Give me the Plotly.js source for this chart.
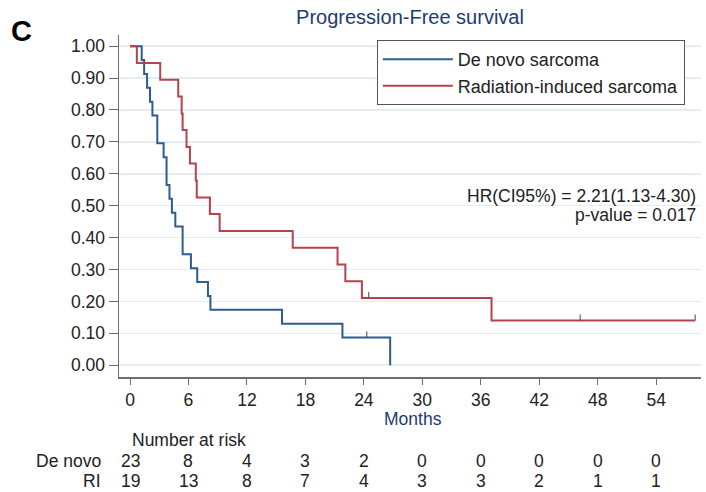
<!DOCTYPE html>
<html>
<head>
<meta charset="utf-8">
<script src="https://cdn.plot.ly/plotly-3.0.1.min.js"></script>
<style>
  html, body { margin: 0; padding: 0; background: #fff; }
  #chart { width: 706px; height: 492px; }
</style>
</head>
<body>
<div id="chart"></div>
<script>
// ---- Data ----
var seriesNames = ["De novo sarcoma", "Radiation-induced sarcoma"];

// De novo sarcoma: Kaplan-Meier step points (months, survival)
var deNovoTime = [0, 1.2, 1.45, 1.75, 2.05, 2.3, 2.8, 3.45, 3.75, 4.05, 4.3, 4.65, 5.4, 6.25, 6.9, 8.0, 8.25, 15.6, 21.8, 26.7];
var deNovoSurv = [1, 0.957, 0.913, 0.870, 0.826, 0.783, 0.696, 0.652, 0.565, 0.522, 0.478, 0.435, 0.348, 0.304, 0.261, 0.217, 0.174, 0.130, 0.087, 0];
var deNovoCensorTime = [24.3];
var deNovoCensorSurv = [0.087];

// Radiation-induced sarcoma
var riTime = [0, 0.7, 3.1, 4.95, 5.3, 5.4, 5.8, 6.15, 6.75, 6.85, 8.2, 9.2, 16.7, 21.3, 22.1, 23.8, 37.1, 58.0];
var riSurv = [1, 0.947, 0.895, 0.842, 0.789, 0.737, 0.684, 0.632, 0.579, 0.526, 0.474, 0.421, 0.368, 0.316, 0.263, 0.211, 0.140, 0.140];
var riCensorTime = [24.5, 46.2, 58.0];
var riCensorSurv = [0.211, 0.140, 0.140];

// Number at risk table
var riskTimes = [0, 6, 12, 18, 24, 30, 36, 42, 48, 54];
var riskDeNovo = [23, 8, 4, 3, 2, 0, 0, 0, 0, 0];
var riskRI = [19, 13, 8, 7, 4, 3, 3, 2, 1, 1];
var riskRowLabels = ["De novo", "RI"];

var yTicks = [0, 0.1, 0.2, 0.3, 0.4, 0.5, 0.6, 0.7, 0.8, 0.9, 1.0];
var xTicks = [0, 6, 12, 18, 24, 30, 36, 42, 48, 54];

var hrLines = ["HR(CI95%) = 2.21(1.13-4.30)", "p-value = 0.017"];

// ---- Styles ----
var blue = "#2c5d92";
var red = "#b5424d";
var navy = "#1f3b72";
var FONT = "Liberation Sans, Arial, Helvetica, sans-serif";

var traces = [
  {
    x: deNovoTime, y: deNovoSurv, name: seriesNames[0],
    type: "scatter", mode: "lines", line: {shape: "hv", color: blue, width: 2}
  },
  {
    x: riTime, y: riSurv, name: seriesNames[1],
    type: "scatter", mode: "lines", line: {shape: "hv", color: red, width: 2}
  }
];

// censor tick marks (small vertical ticks above the curve)
var shapes = [];
function addCensors(times, survs) {
  for (var i = 0; i < times.length; i++) {
    shapes.push({
      type: "line", xref: "x", yref: "y",
      x0: times[i], x1: times[i],
      ysizemode: "pixel", yanchor: survs[i], y0: 0, y1: 6,
      line: {color: "#444", width: 1}
    });
  }
}
addCensors(deNovoCensorTime, deNovoCensorSurv);
addCensors(riCensorTime, riCensorSurv);

var annotations = [];
// panel letter
annotations.push({
  text: "<b>C</b>", xref: "paper", yref: "paper", x: -0.168, y: 1.013,
  xanchor: "center", yanchor: "middle", showarrow: false,
  font: {family: FONT, size: 29, color: "#000"}
});
// x-axis title placed just under the tick labels
annotations.push({
  text: "Months", xref: "paper", yref: "paper", x: 0.505, y: -0.1215,
  xanchor: "center", yanchor: "middle", showarrow: false,
  font: {family: FONT, size: 17.5, color: navy}
});
// HR annotation (two lines, right aligned)
var hrY = [0.529, 0.474];
for (var h = 0; h < hrLines.length; h++) {
  annotations.push({
    text: hrLines[h], xref: "paper", yref: "paper", x: 0.995, y: hrY[h],
    xanchor: "right", yanchor: "middle", align: "right", showarrow: false,
    font: {family: FONT, size: 17.5, color: "#222"}
  });
}
// Number at risk header
annotations.push({
  text: "Number at risk", xref: "x", yref: "paper", x: riskTimes[0], y: -0.1842,
  xanchor: "left", yanchor: "middle", showarrow: false,
  font: {family: FONT, size: 17.5, color: "#222"}
});
// row labels
var rowY = [-0.2442, -0.3041];
for (var r = 0; r < riskRowLabels.length; r++) {
  annotations.push({
    text: riskRowLabels[r], xref: "paper", yref: "paper", x: -0.027, y: rowY[r],
    xanchor: "right", yanchor: "middle", showarrow: false,
    font: {family: FONT, size: 17.5, color: "#222"}
  });
}
var rows = [riskDeNovo, riskRI];
for (var r2 = 0; r2 < rows.length; r2++) {
  for (var k = 0; k < riskTimes.length; k++) {
    annotations.push({
      text: String(rows[r2][k]), xref: "x", yref: "paper", x: riskTimes[k], y: rowY[r2],
      xanchor: "center", yanchor: "middle", showarrow: false,
      font: {family: FONT, size: 17.5, color: "#222"}
    });
  }
}

var layout = {
  width: 706, height: 492,
  margin: {l: 119, r: 5, t: 35, b: 115, pad: 0},
  paper_bgcolor: "#fff", plot_bgcolor: "#fff",
  font: {family: FONT, size: 17.5, color: "#222"},
  title: {
    text: "Progression-Free survival",
    x: 0.5, xref: "paper", xanchor: "center",
    y: 1 - 17 / 492, yref: "container", yanchor: "middle",
    font: {family: FONT, size: 20, color: navy}
  },
  xaxis: {
    range: [-1.13, 58.6], tickvals: xTicks, ticktext: xTicks.map(String),
    showgrid: false, zeroline: false,
    showline: true, linecolor: "#6e6e6e", linewidth: 1.5,
    ticks: "outside", ticklen: 6, tickwidth: 1, tickcolor: "#6e6e6e",
    tickfont: {family: FONT, size: 17.5, color: "#222"},
    automargin: false, fixedrange: true
  },
  yaxis: {
    range: [-0.037, 1.035], tickvals: yTicks, ticktext: yTicks.map(function (v) { return v.toFixed(2); }),
    showgrid: true, gridcolor: "#e3edf3", gridwidth: 1.5, zeroline: false,
    showline: true, linecolor: "#6e6e6e", linewidth: 1.5,
    ticks: "outside", ticklen: 9, tickwidth: 1, tickcolor: "#6e6e6e",
    tickfont: {family: FONT, size: 17.5, color: "#222"},
    automargin: false, fixedrange: true
  },
  showlegend: true,
  legend: {
    x: 0.443, y: 0.985, xanchor: "left", yanchor: "top",
    bgcolor: "#fff", bordercolor: "#555", borderwidth: 1,
    font: {family: FONT, size: 18, color: "#222"},
    itemwidth: 70, tracegroupgap: 0
  },
  shapes: shapes,
  annotations: annotations
};

Plotly.newPlot("chart", traces, layout, {displayModeBar: false, staticPlot: true});
</script>
</body>
</html>
